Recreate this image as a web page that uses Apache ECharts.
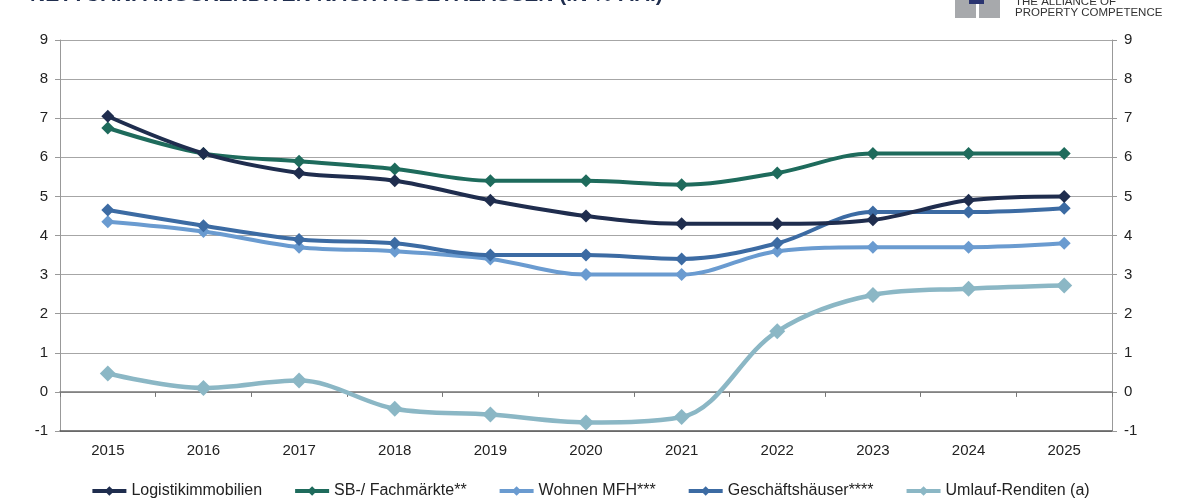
<!DOCTYPE html>
<html>
<head>
<meta charset="utf-8">
<script src="https://cdn.jsdelivr.net/npm/echarts@6/dist/echarts.min.js"></script>
<style>
html,body{margin:0;padding:0;background:#fff;}
#chart{width:1180px;height:500px;}
</style>
</head>
<body>
<div id="chart"></div>
<script>
const years = ['2015','2016','2017','2018','2019','2020','2021','2022','2023','2024','2025'];
const logistik = [7.05, 6.1, 5.6, 5.4, 4.9, 4.5, 4.3, 4.3, 4.4, 4.9, 5.0];
const fachmaerkte = [6.75, 6.1, 5.9, 5.7, 5.4, 5.4, 5.3, 5.6, 6.1, 6.1, 6.1];
const wohnen = [4.35, 4.1, 3.7, 3.6, 3.4, 3.0, 3.0, 3.6, 3.7, 3.7, 3.8];
const geschaeft = [4.65, 4.25, 3.9, 3.8, 3.5, 3.5, 3.4, 3.8, 4.6, 4.6, 4.7];
const umlauf = [0.47, 0.1, 0.29, -0.43, -0.58, -0.78, -0.64, 1.55, 2.48, 2.64, 2.72];
const seriesNames = ['Logistikimmobilien','SB-/ Fachmärkte**','Wohnen MFH***','Geschäftshäuser****','Umlauf-Renditen (a)'];
const colors = ['#1f2d4e','#1e6b5c','#6a9bd0','#3c6ba3','#8bb7c5'];
const titleText = 'NETTOANFANGSRENDITEN NACH ASSETKLASSEN (IN % P.A.)';

const chart = echarts.init(document.getElementById('chart'));
const font = '"Liberation Sans", Arial, sans-serif';
function mk(name, data, color, size, z, w) {
  return {
    name, type: 'line', data, smooth: 0.35, symbol: 'diamond', symbolSize: size,
    lineStyle: {width: w, color}, itemStyle: {color}, z: z, xAxisIndex: 0, yAxisIndex: 0
  };
}
const option = {
  animation: false,
  textStyle: {fontFamily: font},
  grid: {left: 60, right: 68, top: 40, bottom: 69},
  legend: {
    bottom: -4, left: 'center', itemWidth: 34, itemHeight: 12, itemGap: 31,
    lineStyle: {width: 4},
    textStyle: {fontSize: 16, color: '#222', fontFamily: font},
    data: seriesNames
  },
  xAxis: [
    {type: 'category', data: years, position: 'bottom',
     axisLine: {onZero: false, lineStyle: {color: '#555', width: 1.5}},
     axisTick: {show: false},
     axisLabel: {fontSize: 15, color: '#222', margin: 12}},
    {type: 'category', data: years, position: 'bottom',
     axisLine: {onZero: true, onZeroAxisIndex: 0, lineStyle: {color: '#777', width: 1.5}},
     axisTick: {show: true, length: 5, lineStyle: {color: '#777'}},
     axisLabel: {show: false}}
  ],
  yAxis: [
    {type: 'value', min: -1, max: 9, interval: 1, position: 'left',
     axisLine: {show: true, lineStyle: {color: '#999'}},
     axisTick: {show: true, length: 5, lineStyle: {color: '#999'}},
     axisLabel: {fontSize: 15, color: '#222', margin: 12},
     splitLine: {lineStyle: {color: '#a6a6a6', width: 1.2}}},
    {type: 'value', min: -1, max: 9, interval: 1, position: 'right',
     axisLine: {show: true, lineStyle: {color: '#999'}},
     axisTick: {show: true, length: 5, lineStyle: {color: '#999'}},
     axisLabel: {fontSize: 15, color: '#222', margin: 12},
     splitLine: {show: false}}
  ],
  series: [
    mk(seriesNames[0], logistik, colors[0], 13, 6, 4),
    mk(seriesNames[1], fachmaerkte, colors[1], 13, 5, 4),
    mk(seriesNames[2], wohnen, colors[2], 13, 3, 4),
    mk(seriesNames[3], geschaeft, colors[3], 13, 4, 4),
    mk(seriesNames[4], umlauf, colors[4], 16, 2, 4.5)
  ],
  graphic: [
    {type: 'text', left: 30, top: -15, style: {text: titleText, font: 'bold 21px ' + font, fill: '#1f2d4e'}},
    {type: 'rect', shape: {x: 955, y: -2, width: 21, height: 20}, style: {fill: '#a7a9ac'}},
    {type: 'rect', shape: {x: 979, y: -2, width: 21, height: 20}, style: {fill: '#a7a9ac'}},
    {type: 'rect', shape: {x: 969, y: -2, width: 15, height: 6}, style: {fill: '#2a3470'}},
    {type: 'text', left: 1015, top: -4, style: {text: 'THE ALLIANCE OF', font: '11.5px ' + font, fill: '#333'}},
    {type: 'text', left: 1015, top: 7, style: {text: 'PROPERTY COMPETENCE', font: '11.5px ' + font, fill: '#333'}}
  ]
};
chart.setOption(option);
</script>
</body>
</html>
